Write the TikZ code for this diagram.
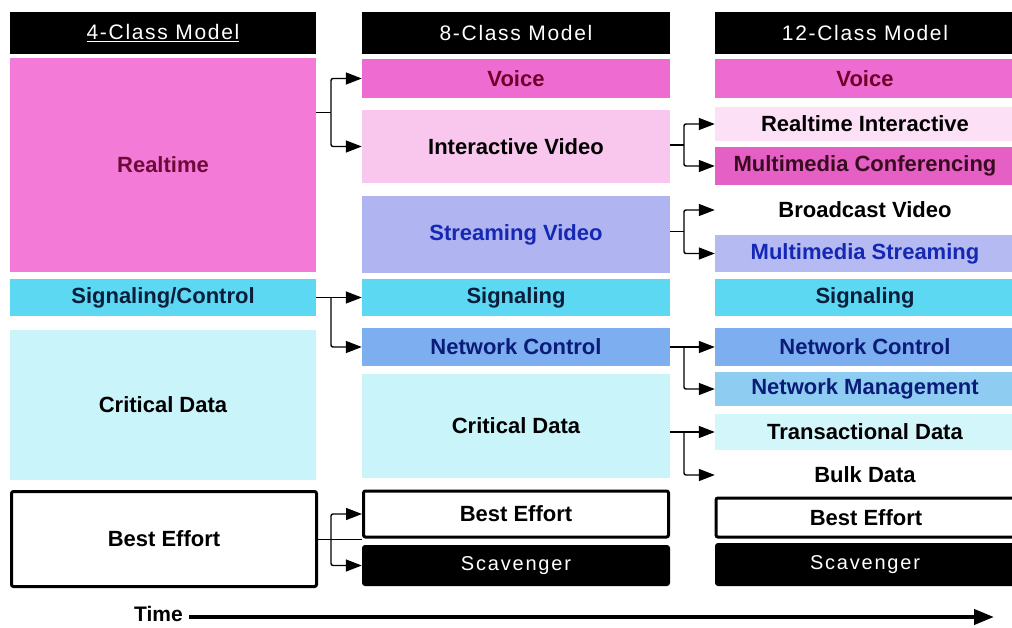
\documentclass[tikz,border=0pt]{standalone}
\usepackage{fontspec}
\setmainfont{Liberation Sans}
\usetikzlibrary{arrows.meta,calc}

\definecolor{rtpink}{HTML}{F47AD8}
\definecolor{voicepink}{HTML}{EE6CD2}
\definecolor{ivpink}{HTML}{F9C6EE}
\definecolor{rtipink}{HTML}{FCE0F6}
\definecolor{mmcpink}{HTML}{E560C4}
\definecolor{svlav}{HTML}{B0B4F0}
\definecolor{mslav}{HTML}{B6BAF2}
\definecolor{sigcyan}{HTML}{5CD8F2}
\definecolor{ncblue}{HTML}{7DAEF0}
\definecolor{nmblue}{HTML}{8ECCF2}
\definecolor{critcyan}{HTML}{C8F4FA}
\definecolor{tdcyan}{HTML}{D2F6FA}
\definecolor{rtdark}{HTML}{6E0A3A}
\definecolor{voicedark}{HTML}{70002A}
\definecolor{mmcdark}{HTML}{3A0A20}
\definecolor{svblue}{HTML}{1428B4}
\definecolor{ncdark}{HTML}{0A1C78}
\definecolor{sigdark}{HTML}{0A1E3C}

% one arrow from a source to a pair of targets through a bracket
\newcommand\forkto[4]{%
  \coordinate (fkm) at ($(#2.west)!.5!(#3.west)$);
  \draw[link] (#1.east |- fkm) -- (#4 |- fkm);
  \draw[tip, rounded corners=2pt] (#4 |- fkm) |- (#2.west);
  \draw[tip, rounded corners=2pt] (#4 |- fkm) |- (#3.west);
}
% straight arrow to the upper target, branch down to the lower one
\newcommand\teeto[4]{%
  \draw[tip] (#1.east |- #2.west) -- (#2.west);
  \draw[tip, rounded corners=2pt] (#4 |- #2.west) |- (#3.west);
}

\begin{document}
\begin{tikzpicture}[x=1pt,y=-1pt,
  band/.style={draw=none, inner sep=0pt, text=black,
    font=\fontsize{22}{24}\selectfont\bfseries},
  head/.style={fill=black, text=white, inner sep=0pt,
    font=\fontsize{21}{24}\selectfont\addfontfeatures{LetterSpace=8}},
  framed/.style={draw=black, line width=3pt, fill=white, rounded corners=2pt,
    inner sep=0pt, font=\fontsize{22}{24}\selectfont\bfseries},
  scav/.style={fill=black, text=white, rounded corners=3pt, inner sep=0pt,
    font=\fontsize{20}{22}\selectfont\addfontfeatures{LetterSpace=9}},
  link/.style={draw=black, line width=1.4pt},
  tip/.style={link, -{Triangle[length=16pt,width=12pt]}},
]
\useasboundingbox (0,0) rectangle (1012,627);

% ---- 4-class model
\node[head, minimum width=306pt, minimum height=42pt] (h1) at (163,33) {\underline{4-Class Model}};
\node[band, fill=rtpink, text=rtdark, minimum width=306pt, minimum height=214pt] (rt1) at (163,165) {Realtime};
\node[band, fill=sigcyan, text=sigdark, minimum width=306pt, minimum height=37pt] (sc1) at (163,297.5) {Signaling/Control};
\node[band, fill=critcyan, minimum width=306pt, minimum height=150pt] (cd1) at (163,405) {Critical Data};
\node[framed, minimum width=305pt, minimum height=95pt] (be1) at (164,539) {Best Effort};

% ---- 8-class model
\node[head, minimum width=308pt, minimum height=42pt] (h2) at (516,33) {8-Class Model};
\node[band, fill=voicepink, text=voicedark, minimum width=308pt, minimum height=39pt] (v2) at (516,78.5) {Voice};
\node[band, fill=ivpink, minimum width=308pt, minimum height=73pt] (iv2) at (516,146.5) {Interactive Video};
\node[band, fill=svlav, text=svblue, minimum width=308pt, minimum height=77pt] (sv2) at (516,234.5) {Streaming Video};
\node[band, fill=sigcyan, text=sigdark, minimum width=308pt, minimum height=37pt] (sg2) at (516,297.5) {Signaling};
\node[band, fill=ncblue, text=ncdark, minimum width=308pt, minimum height=38pt] (nc2) at (516,347) {Network Control};
\node[band, fill=critcyan, minimum width=308pt, minimum height=104pt] (cd2) at (516,426) {Critical Data};
\node[framed, minimum width=305pt, minimum height=46pt] (be2) at (516,514) {Best Effort};
\node[scav, minimum width=308pt, minimum height=41pt] (sc2) at (516,565.5) {Scavenger};

% ---- 12-class model
\node[head, minimum width=300pt, minimum height=42pt] (h3) at (865,33) {12-Class Model};
\node[band, fill=voicepink, text=voicedark, minimum width=300pt, minimum height=39pt] (v3) at (865,78.5) {Voice};
\node[band, fill=rtipink, minimum width=300pt, minimum height=34pt] (rti3) at (865,124) {Realtime Interactive};
\node[band, fill=mmcpink, text=mmcdark, minimum width=300pt, minimum height=38pt] (mmc3) at (865,166) {Multimedia Conferencing};
\node[band, minimum width=300pt, minimum height=40pt] (bv3) at (865,210) {Broadcast Video};
\node[band, fill=mslav, text=svblue, minimum width=300pt, minimum height=37pt] (ms3) at (865,253.5) {Multimedia Streaming};
\node[band, fill=sigcyan, text=sigdark, minimum width=300pt, minimum height=37pt] (sg3) at (865,297.5) {Signaling};
\node[band, fill=ncblue, text=ncdark, minimum width=300pt, minimum height=38pt] (nc3) at (865,347) {Network Control};
\node[band, fill=nmblue, text=ncdark, minimum width=300pt, minimum height=34pt] (nm3) at (865,389) {Network Management};
\node[band, fill=tdcyan, minimum width=300pt, minimum height=36pt] (td3) at (865,432) {Transactional Data};
\node[band, minimum width=300pt, minimum height=40pt] (bk3) at (865,475) {Bulk Data};
\node[framed, minimum width=300pt, minimum height=39pt] (be3) at (866,517.5) {Best Effort};
\node[scav, minimum width=300pt, minimum height=43pt] (sc3) at (865,564.5) {Scavenger};

% ---- connectors
\coordinate (bx1) at (331,0);
\coordinate (bx2) at (684,0);
\forkto{rt1}{v2}{iv2}{bx1}
\teeto{sc1}{sg2}{nc2}{bx1}
\forkto{be1}{be2}{sc2}{bx1}
\draw[link] (bx1 |- fkm) -- (sc2.west |- fkm);
\forkto{iv2}{rti3}{mmc3}{bx2}
\forkto{sv2}{bv3}{ms3}{bx2}
\teeto{nc2}{nc3}{nm3}{bx2}
\teeto{cd2}{td3}{bk3}{bx2}

% ---- time axis
\node[anchor=east, inner sep=0pt, font=\fontsize{21}{23}\selectfont\bfseries] (time) at (183,614) {Time};
\coordinate (tend) at (994,617);
\draw[line width=4pt, -{Triangle[length=20pt,width=15pt]}] ([xshift=6pt]time.east |- tend) -- (tend);
\end{tikzpicture}
\end{document}
